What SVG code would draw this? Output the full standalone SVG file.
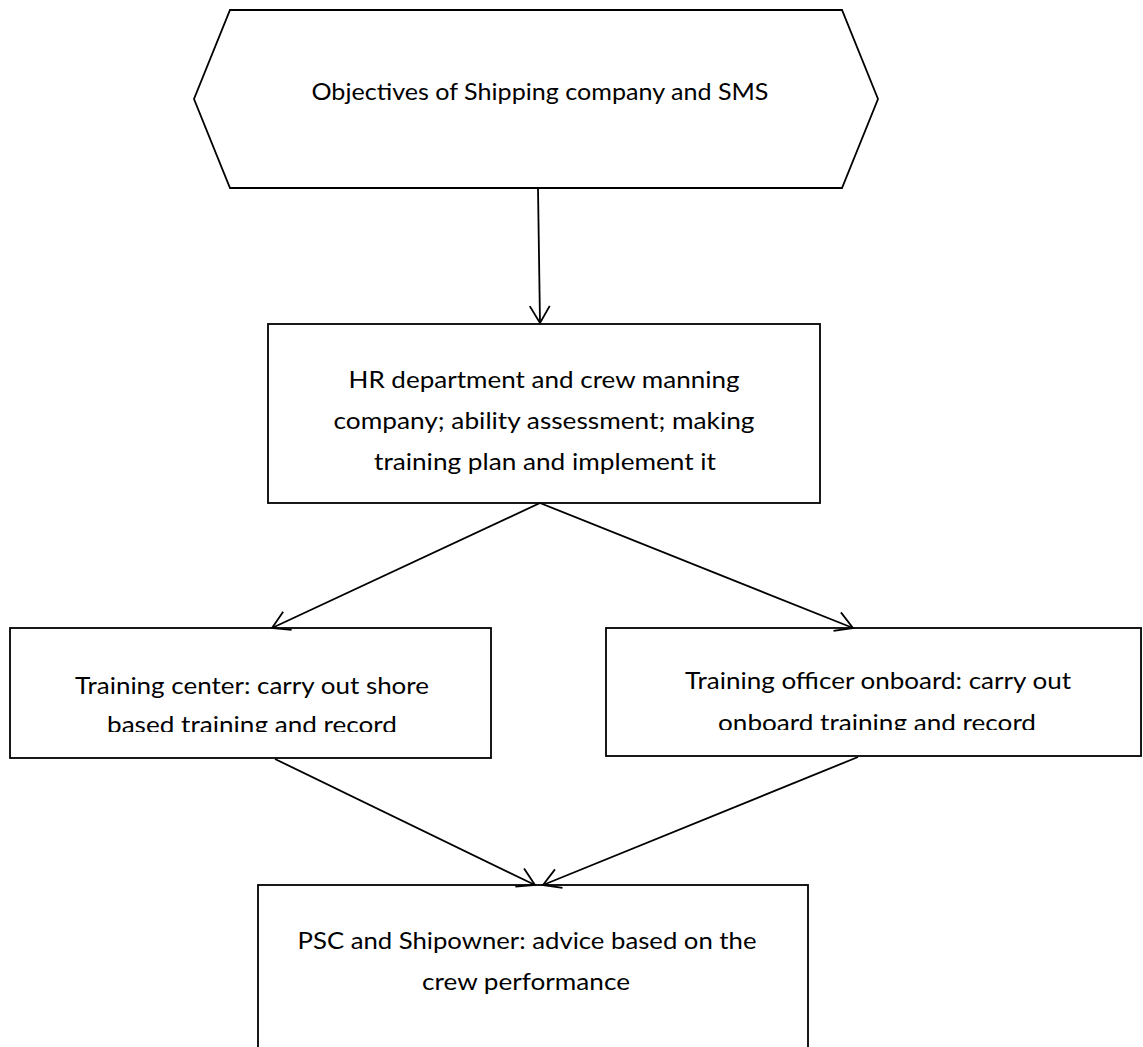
<svg xmlns="http://www.w3.org/2000/svg" width="1143" height="1047" viewBox="0 0 1143 1047">
<style>
.shape{fill:#fff;stroke:#000;stroke-width:1.8}
.conn{fill:none;stroke:#000;stroke-width:1.8;marker-end:url(#arr)}
.t{font-family:Lato,"Liberation Sans",sans-serif;font-size:23.5px;fill:#000;text-anchor:middle}
</style>
<defs>
<marker id="arr" markerUnits="userSpaceOnUse" markerWidth="24" markerHeight="24" viewBox="0 0 24 24" refX="20" refY="12" orient="auto">
<path d="M3,2 L20,12 L3,22" fill="none" stroke="#000" stroke-width="1.8"/>
</marker>
<clipPath id="clipL"><rect x="10" y="628" width="481" height="104"/></clipPath>
<clipPath id="clipR"><rect x="606" y="628" width="537" height="102"/></clipPath>
</defs>
<rect width="1143" height="1047" fill="#fff"/>
<g id="objectives">
<polygon class="shape" points="230,10 842,10 878,99 842,188 230,188 194,99"/>
<text class="t" x="540" y="100" textLength="457" lengthAdjust="spacingAndGlyphs">Objectives of Shipping company and SMS</text>
</g>
<g id="hr">
<rect class="shape" x="268" y="324" width="552" height="179"/>
<text class="t" x="544" y="388" textLength="391" lengthAdjust="spacingAndGlyphs">HR department and crew manning</text>
<text class="t" x="544" y="429" textLength="421" lengthAdjust="spacingAndGlyphs">company; ability assessment; making</text>
<text class="t" x="545" y="470" textLength="342" lengthAdjust="spacingAndGlyphs">training plan and implement it</text>
</g>
<g id="training-center">
<rect class="shape" x="10" y="628" width="481" height="130"/>
<g clip-path="url(#clipL)">
<text class="t" x="252" y="694" textLength="354" lengthAdjust="spacingAndGlyphs">Training center: carry out shore</text>
<text class="t" x="252" y="733" textLength="290" lengthAdjust="spacingAndGlyphs">based training and record</text>
</g>
</g>
<g id="training-officer">
<rect class="shape" x="606" y="628" width="535" height="128"/>
<g clip-path="url(#clipR)">
<text class="t" x="878" y="689" textLength="386" lengthAdjust="spacingAndGlyphs">Training officer onboard: carry out</text>
<text class="t" x="877" y="731" textLength="318" lengthAdjust="spacingAndGlyphs">onboard training and record</text>
</g>
</g>
<g id="psc">
<rect class="shape" x="258" y="885" width="550" height="180"/>
<text class="t" x="527" y="949" textLength="459" lengthAdjust="spacingAndGlyphs">PSC and Shipowner: advice based on the</text>
<text class="t" x="526" y="990" textLength="208" lengthAdjust="spacingAndGlyphs">crew performance</text>
</g>
<g id="connectors">
<line class="conn" x1="538" y1="188" x2="540" y2="323"/>
<line class="conn" x1="540" y1="503" x2="272" y2="628"/>
<line class="conn" x1="540" y1="503" x2="853" y2="628"/>
<line class="conn" x1="275" y1="759" x2="535" y2="885"/>
<line class="conn" x1="858" y1="757" x2="543" y2="885"/>
</g>
</svg>
